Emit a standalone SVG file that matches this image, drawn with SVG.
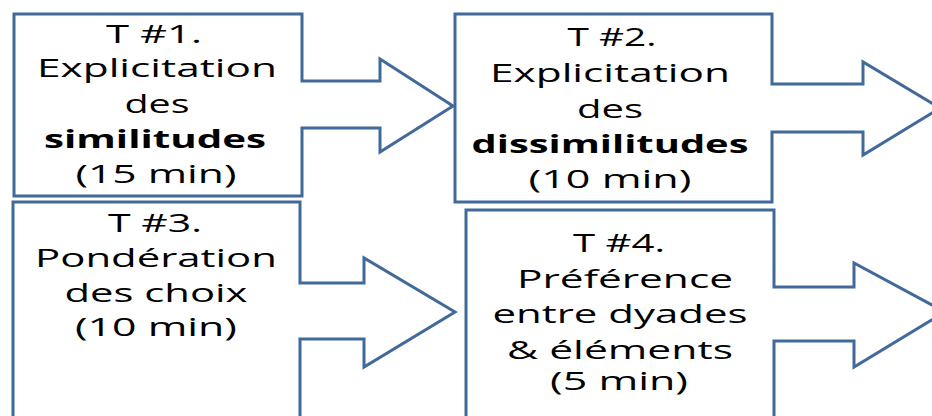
<svg xmlns="http://www.w3.org/2000/svg" width="932" height="416" viewBox="0 0 932 416">
<style>
.shape{fill:#ffffff;stroke:#41699a;stroke-width:3;stroke-linejoin:miter}
text{font-family:"Open Sans","DejaVu Sans",sans-serif;font-size:25px;fill:#000;text-anchor:middle}
.b{font-weight:bold}
</style>
<rect width="932" height="416" fill="#ffffff"/>
<g id="connectors"></g>
<g id="node3">
<path class="shape" d="M13,202 H300 V283 H364 V258 L455,312 L364,367 V339 H300 V430 H13 Z"/>
<text x="155" y="232" textLength="94" lengthAdjust="spacingAndGlyphs">T #3.</text>
<text x="156" y="267" textLength="242" lengthAdjust="spacingAndGlyphs">Pondération</text>
<text x="156" y="302" textLength="183" lengthAdjust="spacingAndGlyphs">des choix</text>
<text x="156" y="336" textLength="162" lengthAdjust="spacingAndGlyphs">(10 min)</text>
</g>
<g id="node4">
<path class="shape" d="M466,210 H774 V287 H854 V263 L945,312 L854,367 V341 H774 V430 H466 Z"/>
<text x="619" y="252" textLength="92" lengthAdjust="spacingAndGlyphs">T #4.</text>
<text x="625" y="288" textLength="216" lengthAdjust="spacingAndGlyphs">Préférence</text>
<text x="620" y="323" textLength="255" lengthAdjust="spacingAndGlyphs">entre dyades</text>
<text x="620" y="359" textLength="226" lengthAdjust="spacingAndGlyphs">&amp; éléments</text>
<text x="619" y="390" textLength="138" lengthAdjust="spacingAndGlyphs">(5 min)</text>
</g>
<g id="node1">
<path class="shape" d="M14,14 H302 V81 H380 V59 L453,106 L380,152 V128 H302 V196 H14 Z"/>
<text x="154" y="43" textLength="96" lengthAdjust="spacingAndGlyphs">T #1.</text>
<text x="157" y="77" textLength="240" lengthAdjust="spacingAndGlyphs">Explicitation</text>
<text x="157" y="113" textLength="65" lengthAdjust="spacingAndGlyphs">des</text>
<text class="b" x="155" y="148" textLength="222" lengthAdjust="spacingAndGlyphs">similitudes</text>
<text x="156" y="183" textLength="161" lengthAdjust="spacingAndGlyphs">(15 min)</text>
</g>
<g id="node2">
<path class="shape" d="M455,14 H772 V84 H863 V62 L940,108 L863,155 V132 H772 V202 H455 Z"/>
<text x="612" y="46" textLength="89" lengthAdjust="spacingAndGlyphs">T #2.</text>
<text x="610" y="82" textLength="240" lengthAdjust="spacingAndGlyphs">Explicitation</text>
<text x="610" y="118" textLength="66" lengthAdjust="spacingAndGlyphs">des</text>
<text class="b" x="610" y="153" textLength="277" lengthAdjust="spacingAndGlyphs">dissimilitudes</text>
<text x="610" y="188" textLength="163" lengthAdjust="spacingAndGlyphs">(10 min)</text>
</g>
</svg>
